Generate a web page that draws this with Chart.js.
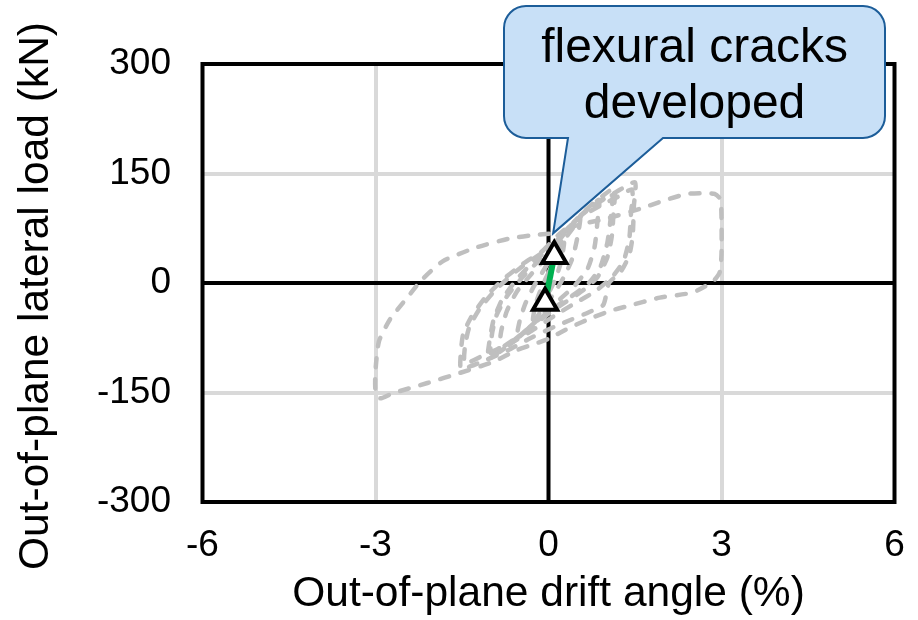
<!DOCTYPE html>
<html>
<head>
<meta charset="utf-8">
<script src="https://cdn.jsdelivr.net/npm/chart.js@4.4.1/dist/chart.umd.min.js"></script>
<style>
html, body { margin: 0; padding: 0; background: #fff; }
</style>
</head>
<body>
<canvas id="loadChart" width="918" height="620"></canvas>
<script>
// hysteresis loops, [drift %, load kN]
const loop025 = [[0,0],[0.1,28],[0.2,45],[0.27,55],[0.22,30],[0.12,5],[0,-14],[-0.1,-30],[-0.2,-42],[-0.27,-50],[-0.22,-28],[-0.12,-6],[0,14]];
const loop050 = [[0,14],[0.15,40],[0.3,62],[0.45,78],[0.55,88],[0.5,62],[0.42,35],[0.28,10],[0.1,-14],[-0.1,-35],[-0.25,-52],[-0.4,-66],[-0.55,-76],[-0.5,-52],[-0.4,-28],[-0.25,-4],[-0.05,22]];
const loop075 = [[-0.05,22],[0.15,48],[0.35,72],[0.55,92],[0.75,106],[0.88,114],[0.85,85],[0.8,50],[0.68,20],[0.45,-4],[0.2,-22],[0,-36],[-0.25,-55],[-0.5,-72],[-0.7,-85],[-0.85,-94],[-0.82,-66],[-0.72,-38],[-0.55,-12],[-0.3,12],[-0.05,34]];
const loop100a = [[-0.05,34],[0.2,60],[0.45,84],[0.7,104],[0.95,120],[1.15,130],[1.13,100],[1.1,65],[1.02,35],[0.85,8],[0.6,-10],[0.3,-26],[0,-42],[-0.3,-62],[-0.6,-80],[-0.85,-94],[-1.05,-104],[-1.02,-78],[-0.95,-50],[-0.8,-22],[-0.55,5],[-0.25,30],[0,46]];
const loop100b = [[0,46],[0.3,72],[0.6,95],[0.85,110],[1.1,120],[1.08,90],[1.02,55],[0.9,22],[0.7,0],[0.4,-18],[0.1,-34],[-0.2,-52],[-0.5,-72],[-0.8,-88],[-1.0,-96],[-0.98,-70],[-0.9,-44],[-0.72,-18],[-0.45,8],[-0.15,32],[0.05,48]];
const loop150a = [[0.05,48],[0.3,72],[0.6,95],[0.9,112],[1.2,126],[1.5,138],[1.48,105],[1.46,65],[1.4,38],[1.25,15],[1.05,0],[0.95,-30],[0.7,-40],[0.4,-50],[0.1,-60],[-0.3,-75],[-0.7,-92],[-1.1,-106],[-1.35,-114],[-1.52,-118],[-1.52,-95],[-1.48,-70],[-1.35,-48],[-1.1,-20],[-0.8,4],[-0.45,26],[-0.1,44]];
const loop150b = [[-0.1,44],[0.2,68],[0.55,90],[0.9,106],[1.2,118],[1.45,128],[1.43,95],[1.4,60],[1.3,30],[1.1,8],[0.8,-12],[0.45,-28],[0.1,-45],[-0.3,-66],[-0.7,-84],[-1.1,-98],[-1.45,-110],[-1.45,-88],[-1.38,-62],[-1.2,-36],[-0.9,-8],[-0.5,20],[-0.1,42],[0.1,55]];
const loop300 = [[0.1,55],[0.42,77],[1.0,88],[1.6,102],[2.0,113],[2.4,122],[2.7,123],[2.88,122],[2.98,115],[3.0,90],[3.0,40],[2.97,15],[2.85,2],[2.5,-13],[1.93,-20],[1.36,-32],[1.12,-37],[0.77,-47],[0.4,-60],[0.2,-68],[0.02,-76],[-0.3,-85],[-0.55,-92],[-0.96,-108],[-1.53,-123],[-2.1,-137],[-2.7,-151],[-2.92,-158],[-3.0,-148],[-3.0,-120],[-2.94,-80],[-2.75,-50],[-2.45,-20],[-2.2,4],[-1.83,30],[-1.24,49],[-0.67,61],[-0.2,66],[0.1,68]];
const loops = [loop025, loop050, loop075, loop100a, loop100b, loop150a, loop150b, loop300];

// initial flexural cracking points and the branch between them
const crackPoints = [[-0.06,-27],[0.1,37]];
const crackBranch = [[-0.06,-27],[0.1,37]];

const xTicks = [-6, -3, 0, 3, 6];
const yTicks = [-300, -150, 0, 150, 300];

const xTitle = "Out-of-plane drift angle (%)";
const yTitle = "Out-of-plane lateral load (kN)";
const calloutText = ["flexural cracks", "developed"];
const calloutTip = [0.08, 68];

const FONT = "'Liberation Sans', Arial, sans-serif";

function toXY(pairs) {
    return pairs.map(p => ({ x: p[0], y: p[1] }));
}

const loopSets = loops.map(loop => ({
    data: toXY(loop),
    showLine: true,
    borderColor: "#bfbfbf",
    borderWidth: 4.5,
    borderDash: [9, 12],
    borderCapStyle: "round",
    borderJoinStyle: "round",
    tension: 0.2,
    pointRadius: 0,
    order: 2
}));

// black frame and zero axes, under the data
const frameLines = {
    id: "frameLines",
    beforeDatasetsDraw(chart) {
        const { ctx, chartArea: a, scales } = chart;
        const x0 = scales.x.getPixelForValue(0);
        const y0 = scales.y.getPixelForValue(0);
        ctx.save();
        ctx.strokeStyle = "#000";
        ctx.lineWidth = 4;
        ctx.strokeRect(a.left, a.top, a.right - a.left, a.bottom - a.top);
        ctx.beginPath();
        ctx.moveTo(x0, a.top);
        ctx.lineTo(x0, a.bottom);
        ctx.moveTo(a.left, y0);
        ctx.lineTo(a.right, y0);
        ctx.stroke();
        ctx.restore();
    }
};

// vertical axis title, set a little below the plot centre
const yAxisTitle = {
    id: "yAxisTitle",
    afterDraw(chart, args, opts) {
        const { ctx } = chart;
        ctx.save();
        ctx.translate(opts.x, opts.y);
        ctx.rotate(-Math.PI / 2);
        ctx.fillStyle = "#000";
        ctx.font = "42.5px " + FONT;
        ctx.textAlign = "center";
        ctx.textBaseline = "middle";
        ctx.fillText(yTitle, 0, 0);
        ctx.restore();
    }
};

// speech bubble pointing at the crack point
const callout = {
    id: "callout",
    afterDraw(chart, args, opts) {
        const { ctx, scales } = chart;
        const tipX = scales.x.getPixelForValue(calloutTip[0]);
        const tipY = scales.y.getPixelForValue(calloutTip[1]);
        const { left, top, right, bottom, radius, tailFrom, tailTo } = opts;
        ctx.save();
        ctx.beginPath();
        ctx.moveTo(left + radius, top);
        ctx.lineTo(right - radius, top);
        ctx.arcTo(right, top, right, top + radius, radius);
        ctx.lineTo(right, bottom - radius);
        ctx.arcTo(right, bottom, right - radius, bottom, radius);
        ctx.lineTo(tailTo, bottom);
        ctx.lineTo(tipX, tipY);
        ctx.lineTo(tailFrom, bottom);
        ctx.lineTo(left + radius, bottom);
        ctx.arcTo(left, bottom, left, bottom - radius, radius);
        ctx.lineTo(left, top + radius);
        ctx.arcTo(left, top, left + radius, top, radius);
        ctx.closePath();
        ctx.fillStyle = "#c8e0f7";
        ctx.fill();
        ctx.strokeStyle = "#1c5d99";
        ctx.lineWidth = 2;
        ctx.stroke();

        ctx.fillStyle = "#000";
        ctx.font = "48px " + FONT;
        ctx.textAlign = "center";
        ctx.textBaseline = "alphabetic";
        const cx = (left + right) / 2;
        calloutText.forEach((line, i) => {
            ctx.fillText(line, cx, top + 56 + i * 56);
        });
        ctx.restore();
    }
};

new Chart(document.getElementById("loadChart"), {
    type: "scatter",
    data: {
        datasets: [
            {
                data: toXY(crackPoints),
                pointStyle: "triangle",
                pointRadius: 14,
                pointBackgroundColor: "#fff",
                pointBorderColor: "#000",
                pointBorderWidth: 4,
                showLine: false,
                order: 0
            },
            {
                data: toXY(crackBranch),
                showLine: true,
                borderColor: "#00b050",
                borderWidth: 6,
                pointRadius: 0,
                order: 1
            },
            ...loopSets
        ]
    },
    options: {
        responsive: false,
        animation: false,
        layout: { padding: { top: 64, right: 23.5, bottom: 0, left: 0 } },
        plugins: {
            legend: { display: false },
            tooltip: { enabled: false },
            yAxisTitle: { x: 36, y: 296 },
            callout: { left: 504, top: 6, right: 885, bottom: 138, radius: 22, tailFrom: 568, tailTo: 663 }
        },
        scales: {
            x: {
                type: "linear",
                min: -6,
                max: 6,
                afterBuildTicks: s => { s.ticks = xTicks.map(v => ({ value: v })); },
                afterFit: s => {
                    s.height = 118;
                    s.paddingLeft = 0;
                    s.paddingRight = 0;
                },
                grid: {
                    color: c => (c.tick && Math.abs(c.tick.value) === 3) ? "#d9d9d9" : "rgba(0,0,0,0)",
                    lineWidth: 4,
                    drawTicks: false
                },
                border: { display: false },
                ticks: { color: "#000", padding: 22, font: { family: FONT, size: 37 } },
                title: {
                    display: true,
                    text: xTitle,
                    color: "#000",
                    font: { family: FONT, size: 42.5, lineHeight: 1.2 },
                    padding: { top: 0, bottom: 0 }
                }
            },
            y: {
                type: "linear",
                min: -300,
                max: 300,
                afterBuildTicks: s => { s.ticks = yTicks.map(v => ({ value: v })); },
                afterFit: s => { s.width = 202.5; },
                grid: {
                    color: c => (c.tick && Math.abs(c.tick.value) === 150) ? "#d9d9d9" : "rgba(0,0,0,0)",
                    lineWidth: 4,
                    drawTicks: false
                },
                border: { display: false },
                ticks: { color: "#000", padding: 31.5, font: { family: FONT, size: 37 } },
                title: { display: false }
            }
        }
    },
    plugins: [frameLines, yAxisTitle, callout]
});
</script>
</body>
</html>
